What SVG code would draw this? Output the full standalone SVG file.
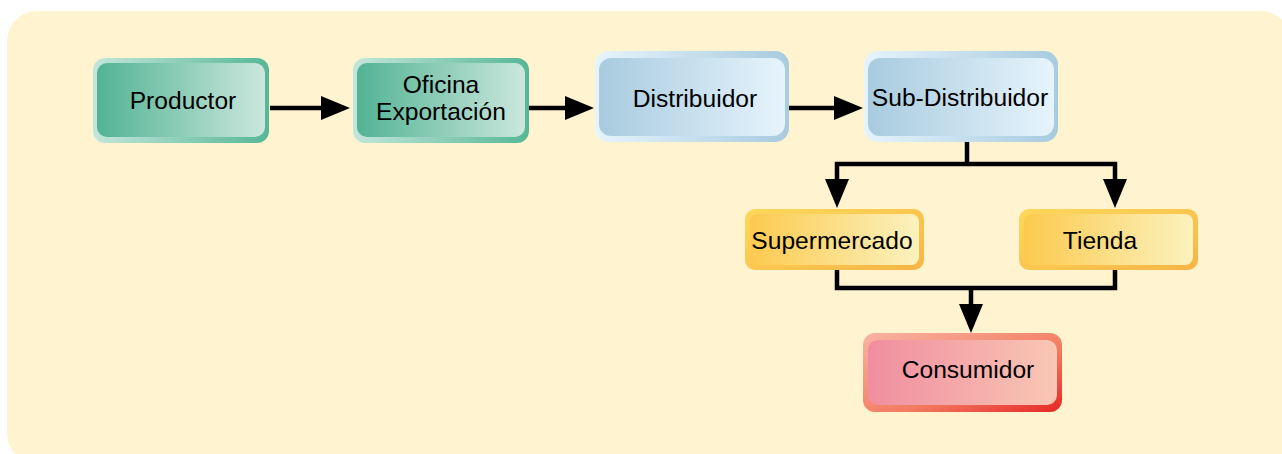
<svg xmlns="http://www.w3.org/2000/svg" width="1282" height="454" viewBox="0 0 1282 454">
<style>
.lbl{font-family:"Liberation Sans",Arial,Helvetica,sans-serif;font-size:24.6px;fill:#000;text-anchor:middle}
.con{fill:none;stroke:#000;stroke-width:4.5;stroke-linejoin:miter}
</style>
<defs>
<linearGradient id="tealFill" x1="0" y1="0" x2="1" y2="0"><stop offset="0" stop-color="#52b394"/><stop offset="1" stop-color="#cbe7dd"/></linearGradient>
<linearGradient id="tealBorder" x1="0" y1="0" x2="1" y2="0"><stop offset="0" stop-color="#c4e6da"/><stop offset="1" stop-color="#56b797"/></linearGradient>
<linearGradient id="blueFill" x1="0" y1="0" x2="1" y2="0"><stop offset="0" stop-color="#a8cbdf"/><stop offset="1" stop-color="#e6f4fc"/></linearGradient>
<linearGradient id="blueBorder" x1="0" y1="0" x2="1" y2="0"><stop offset="0" stop-color="#e6f4fc"/><stop offset="1" stop-color="#a8cbdf"/></linearGradient>
<linearGradient id="yelFill" x1="0" y1="0" x2="1" y2="0"><stop offset="0" stop-color="#fcca4f"/><stop offset="1" stop-color="#fbf2be"/></linearGradient>
<linearGradient id="yelBorder" x1="0" y1="0" x2="1" y2="1"><stop offset="0" stop-color="#fdd95a"/><stop offset="1" stop-color="#f7b546"/></linearGradient>
<linearGradient id="pinkFill" x1="0" y1="0" x2="1" y2="0"><stop offset="0" stop-color="#f08da0"/><stop offset="1" stop-color="#f9c7b4"/></linearGradient>
<linearGradient id="pinkBorder" x1="0" y1="0" x2="1" y2="1"><stop offset="0" stop-color="#f8b4a2"/><stop offset="0.6" stop-color="#f37c60"/><stop offset="1" stop-color="#e52626"/></linearGradient>
<marker id="arr" markerUnits="userSpaceOnUse" viewBox="0 0 29 24" markerWidth="29" markerHeight="24" refX="1" refY="12" orient="auto">
<path d="M0,0 L29,12 L0,24 Z" fill="#000"/>
</marker>
</defs>
<rect x="7" y="11" width="1284" height="452" rx="30" ry="30" fill="#fff3d0"/>
<g id="connectors">
<path class="con" d="M270,108 H322" marker-end="url(#arr)"/>
<path class="con" d="M529,108 H566" marker-end="url(#arr)"/>
<path class="con" d="M789,108 H835" marker-end="url(#arr)"/>
<path class="con" d="M967,142 V164"/>
<path class="con" d="M967,164 H837 V180" marker-end="url(#arr)"/>
<path class="con" d="M967,164 H1115 V180" marker-end="url(#arr)"/>
<path class="con" d="M837,270 V288 H971"/>
<path class="con" d="M1115,270 V288 H971"/>
<path class="con" d="M971,288 V305" marker-end="url(#arr)"/>
</g>
<g id="productor">
<rect x="93" y="58" width="176" height="85" rx="12" fill="url(#tealBorder)"/>
<rect x="97" y="63" width="168" height="74" rx="10" fill="url(#tealFill)"/>
<text class="lbl" x="183" y="109">Productor</text>
</g>
<g id="oficina">
<rect x="353" y="58" width="176" height="85" rx="12" fill="url(#tealBorder)"/>
<rect x="357" y="63" width="168" height="74" rx="10" fill="url(#tealFill)"/>
<text class="lbl" x="441" y="93">Oficina</text>
<text class="lbl" x="441" y="120">Exportación</text>
</g>
<g id="distribuidor">
<rect x="595" y="51" width="194" height="91" rx="14" fill="url(#blueBorder)"/>
<rect x="599" y="58" width="186" height="78" rx="12" fill="url(#blueFill)"/>
<text class="lbl" x="695" y="107">Distribuidor</text>
</g>
<g id="subdistribuidor">
<rect x="864" y="51" width="194" height="91" rx="14" fill="url(#blueBorder)"/>
<rect x="868" y="58" width="186" height="78" rx="12" fill="url(#blueFill)"/>
<text class="lbl" x="960" y="106">Sub-Distribuidor</text>
</g>
<g id="supermercado">
<rect x="745" y="209" width="179" height="61" rx="10" fill="url(#yelBorder)"/>
<rect x="750" y="214" width="169" height="51" rx="8" fill="url(#yelFill)"/>
<text class="lbl" x="832" y="249">Supermercado</text>
</g>
<g id="tienda">
<rect x="1019" y="209" width="179" height="61" rx="10" fill="url(#yelBorder)"/>
<rect x="1024" y="214" width="169" height="51" rx="8" fill="url(#yelFill)"/>
<text class="lbl" x="1100" y="249">Tienda</text>
</g>
<g id="consumidor">
<rect x="863" y="333" width="199" height="79" rx="12" fill="url(#pinkBorder)"/>
<rect x="868" y="340" width="189" height="65" rx="10" fill="url(#pinkFill)"/>
<text class="lbl" x="968" y="378">Consumidor</text>
</g>
</svg>
